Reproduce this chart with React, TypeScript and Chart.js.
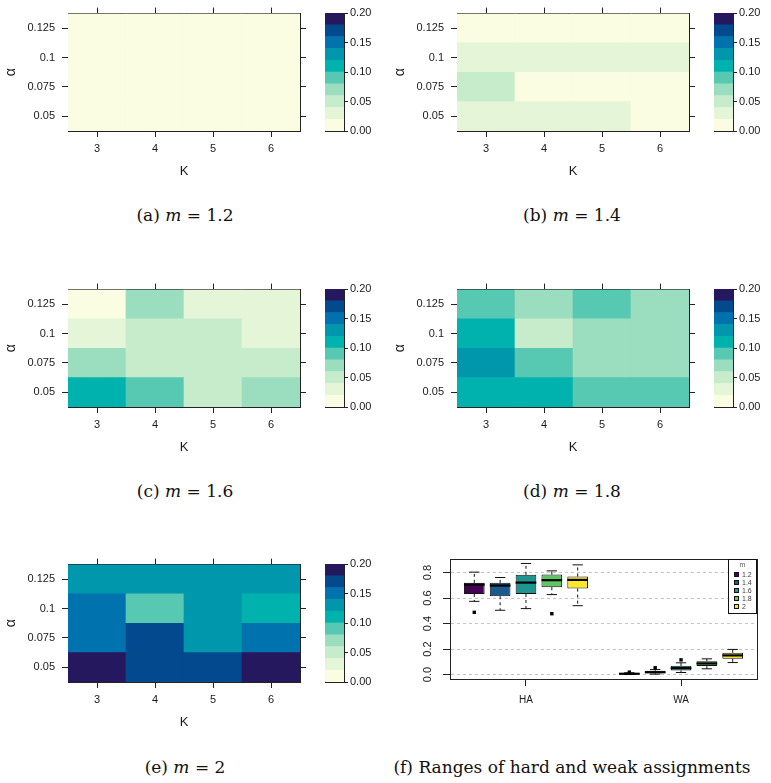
import React, { useEffect, useRef } from 'react';
import { Chart, registerables } from 'chart.js';

Chart.register(...registerables);

const SANS = "'Liberation Sans', Arial, Helvetica, sans-serif";
const SERIF = "'DejaVu Serif', serif";
const INK = '#222222';
const TEXT = '#1a1a1a';

// ---- heat maps: misclassification rate by alpha and K ----
const K_VALUES = ['3', '4', '5', '6'];
const ALPHAS = [0.05, 0.075, 0.1, 0.125];

// colour key: ten bands of width 0.02
const LEVEL_BREAKS = [0, 0.02, 0.04, 0.06, 0.08, 0.1, 0.12, 0.14, 0.16, 0.18, 0.2];
const LEVEL_COLORS = [
  '#FAFDE1', '#E4F5D8', '#C6ECCB', '#9ADDBF', '#57C8B1',
  '#00B2AD', '#0096AC', '#0072AD', '#024A8D', '#26185F',
];
const KEY_TICKS = [0, 0.05, 0.1, 0.15, 0.2];

// rows follow ALPHAS (0.05 first), columns follow K_VALUES
const RATES_M12 = [
  [0.008, 0.006, 0.005, 0.004],
  [0.007, 0.005, 0.004, 0.003],
  [0.006, 0.005, 0.004, 0.003],
  [0.005, 0.004, 0.003, 0.002],
];
const RATES_M14 = [
  [0.028, 0.024, 0.021, 0.016],
  [0.042, 0.018, 0.015, 0.012],
  [0.032, 0.027, 0.025, 0.022],
  [0.017, 0.014, 0.012, 0.010],
];
const RATES_M16 = [
  [0.108, 0.088, 0.050, 0.071],
  [0.068, 0.052, 0.047, 0.045],
  [0.035, 0.047, 0.043, 0.033],
  [0.018, 0.064, 0.031, 0.029],
];
const RATES_M18 = [
  [0.112, 0.104, 0.091, 0.085],
  [0.127, 0.089, 0.073, 0.067],
  [0.106, 0.054, 0.070, 0.066],
  [0.087, 0.072, 0.083, 0.069],
];
const RATES_M20 = [
  [0.187, 0.173, 0.168, 0.184],
  [0.152, 0.166, 0.131, 0.148],
  [0.146, 0.093, 0.128, 0.114],
  [0.134, 0.129, 0.127, 0.125],
];

// ---- box plots: hard (HA) and weak (WA) assignment rates ----
const M_LABELS = ['1.2', '1.4', '1.6', '1.8', '2'];
const BOX_COLORS = ['#440154', '#1B5A8D', '#1E968F', '#5DC863', '#FDE725'];
const GROUPS = ['HA', 'WA'];
const GROUP_CENTERS = [3, 9];
const Y_TICKS = [0, 0.2, 0.4, 0.6, 0.8];
const LEGEND_TITLE = 'm';

const HA_LOW = [0.574, 0.504, 0.517, 0.627, 0.540];
const HA_Q1 = [0.632, 0.614, 0.632, 0.685, 0.674];
const HA_MED = [0.705, 0.698, 0.721, 0.740, 0.742];
const HA_Q3 = [0.719, 0.719, 0.782, 0.784, 0.769];
const HA_HIGH = [0.803, 0.761, 0.871, 0.813, 0.860];
const HA_OUT = [[0.488], [], [], [0.477], []];

const WA_LOW = [0.0, 0.003, 0.016, 0.045, 0.094];
const WA_Q1 = [0.002, 0.011, 0.032, 0.066, 0.123];
const WA_MED = [0.006, 0.018, 0.050, 0.087, 0.150];
const WA_Q3 = [0.010, 0.029, 0.068, 0.105, 0.171];
const WA_HIGH = [0.014, 0.039, 0.092, 0.123, 0.197];
const WA_OUT = [[0.019], [0.053], [0.115], [], []];

const CAPTIONS = ['(a)', '(b)', '(c)', '(d)', '(e)', '(f)'];
const F_CAPTION = 'Ranges of hard and weak assignments';

// ---- helpers ----
const sizeTo = (px: number) => (scale: any) => {
  if (scale.isHorizontal()) scale.height = px;
  else scale.width = px;
};

const tickGrid = (tickLength: number) => ({
  display: true,
  drawOnChartArea: false,
  drawTicks: true,
  offset: false,
  tickLength,
  tickColor: INK,
  tickWidth: 1,
  color: INK,
  lineWidth: 1,
});
const noGrid = { display: false, drawOnChartArea: false, drawTicks: false, offset: false };
const frameBorder = { display: true, color: INK, width: 1 };
const hiddenTicks = { display: false };

const baseOptions = {
  responsive: false,
  animation: false,
  devicePixelRatio: 1,
  events: [],
  layout: { padding: 0 },
  plugins: { legend: { display: false }, tooltip: { enabled: false }, title: { display: false } },
};

function levelColor(v: number) {
  let i = 0;
  while (i < LEVEL_COLORS.length - 1 && v >= LEVEL_BREAKS[i + 1]) i++;
  return LEVEL_COLORS[i];
}

function heatmapConfig(rates: number[][]) {
  const half = (ALPHAS[1] - ALPHAS[0]) / 2;
  const yMin = ALPHAS[0] - half;
  const yMax = ALPHAS[ALPHAS.length - 1] + half;
  const alphaTicks = (s: any) => {
    s.ticks = ALPHAS.map((value) => ({ value }));
  };
  return {
    type: 'bar',
    data: {
      labels: K_VALUES,
      datasets: ALPHAS.map((a, r) => ({
        label: String(a),
        data: K_VALUES.map(() => [a - half, a + half]),
        backgroundColor: rates[r].map(levelColor),
        borderWidth: 0,
        grouped: false,
        barPercentage: 1,
        categoryPercentage: 1,
        xAxisID: 'x',
        yAxisID: 'y',
      })),
    },
    options: {
      ...baseOptions,
      scales: {
        x: {
          type: 'category', axis: 'x', position: 'bottom', offset: true,
          afterFit: sizeTo(51),
          grid: tickGrid(6), border: frameBorder,
          ticks: { font: { family: SANS, size: 11 }, color: TEXT, padding: 5, maxRotation: 0, autoSkip: false },
          title: { display: true, text: 'K', color: TEXT, font: { family: SANS, size: 13 }, padding: { top: 0, bottom: 3 } },
        },
        xt: {
          type: 'category', axis: 'x', position: 'top', offset: true,
          afterFit: sizeTo(13),
          grid: tickGrid(6), border: frameBorder, ticks: hiddenTicks,
        },
        y: {
          type: 'linear', axis: 'y', position: 'left', min: yMin, max: yMax, beginAtZero: false,
          afterBuildTicks: alphaTicks, afterFit: sizeTo(68),
          grid: tickGrid(6), border: frameBorder,
          ticks: { font: { family: SANS, size: 11 }, color: TEXT, padding: 7, callback: (v: number) => String(v) },
          title: { display: true, text: 'α', color: TEXT, font: { family: SANS, size: 14 }, padding: { top: 3, bottom: 0 } },
        },
        yr: {
          type: 'linear', axis: 'y', position: 'right', min: yMin, max: yMax, beginAtZero: false,
          afterBuildTicks: alphaTicks, afterFit: sizeTo(10),
          grid: tickGrid(6), border: frameBorder, ticks: hiddenTicks,
        },
      },
    },
  };
}

function colorKeyConfig() {
  const lo = LEVEL_BREAKS[0];
  const hi = LEVEL_BREAKS[LEVEL_BREAKS.length - 1];
  return {
    type: 'bar',
    data: {
      labels: [''],
      datasets: LEVEL_COLORS.map((c, i) => ({
        data: [[LEVEL_BREAKS[i], LEVEL_BREAKS[i + 1]]],
        backgroundColor: c,
        borderWidth: 0,
        grouped: false,
        barPercentage: 1,
        categoryPercentage: 1,
        xAxisID: 'x',
        yAxisID: 'y',
      })),
    },
    options: {
      ...baseOptions,
      scales: {
        x: {
          type: 'category', axis: 'x', position: 'bottom', offset: true,
          afterFit: sizeTo(19), grid: noGrid, border: frameBorder, ticks: hiddenTicks,
        },
        xt: {
          type: 'category', axis: 'x', position: 'top', offset: true,
          afterFit: sizeTo(13), grid: noGrid, border: frameBorder, ticks: hiddenTicks,
        },
        yl: {
          type: 'linear', axis: 'y', position: 'left', min: lo, max: hi, beginAtZero: false,
          afterFit: sizeTo(5), grid: noGrid, border: frameBorder, ticks: hiddenTicks,
        },
        y: {
          type: 'linear', axis: 'y', position: 'right', min: lo, max: hi, beginAtZero: false,
          afterBuildTicks: (s: any) => {
            s.ticks = KEY_TICKS.map((value) => ({ value }));
          },
          afterFit: sizeTo(36),
          grid: tickGrid(4), border: frameBorder,
          ticks: { font: { family: SANS, size: 11 }, color: TEXT, padding: 2, callback: (v: number) => v.toFixed(2) },
        },
      },
    },
  };
}

// legend drawn inside the top-right corner of the plot
const insetLegend = {
  id: 'insetLegend',
  afterDatasetsDraw(chart: any) {
    const items = chart.data.datasets.filter((d: any) => d.type === 'bar');
    const { ctx, chartArea } = chart;
    const w = 29;
    const h = 55;
    const x0 = Math.round(chartArea.right - w);
    const y0 = Math.round(chartArea.top);
    ctx.save();
    ctx.fillStyle = '#ffffff';
    ctx.fillRect(x0, y0, w, h);
    ctx.strokeStyle = '#111111';
    ctx.lineWidth = 1;
    ctx.strokeRect(x0 + 0.5, y0 + 0.5, w - 1, h - 1);
    ctx.font = `7px ${SANS}`;
    ctx.textBaseline = 'middle';
    ctx.textAlign = 'center';
    ctx.fillStyle = '#555555';
    ctx.fillText(LEGEND_TITLE, x0 + w / 2, y0 + 6);
    ctx.textAlign = 'left';
    items.forEach((d: any, i: number) => {
      const cy = Math.round(y0 + 16 + i * 8);
      ctx.fillStyle = d.backgroundColor;
      ctx.fillRect(x0 + 6, cy - 3, 5, 5);
      ctx.strokeStyle = '#111111';
      ctx.strokeRect(x0 + 6.5, cy - 2.5, 4, 4);
      ctx.fillStyle = '#444444';
      ctx.fillText(d.label, x0 + 14, cy);
    });
    ctx.restore();
  },
};

// y tick labels written along the axis (reading upwards), placed from the y scale's ticks
const uprightYLabels = {
  id: 'uprightYLabels',
  afterDraw(chart: any) {
    const s = chart.scales.y;
    const { ctx } = chart;
    ctx.save();
    ctx.font = `11px ${SANS}`;
    ctx.fillStyle = TEXT;
    ctx.textAlign = 'center';
    ctx.textBaseline = 'middle';
    const x = chart.chartArea.left - 22;
    s.ticks.forEach((t: any) => {
      const y = s.getPixelForValue(t.value);
      ctx.save();
      ctx.translate(x, y);
      ctx.rotate(-Math.PI / 2);
      ctx.fillText(Number(t.value).toFixed(1), 0, 0);
      ctx.restore();
    });
    ctx.restore();
  },
};

function boxplotConfig() {
  const stats = [
    { low: HA_LOW, q1: HA_Q1, med: HA_MED, q3: HA_Q3, high: HA_HIGH, out: HA_OUT },
    { low: WA_LOW, q1: WA_Q1, med: WA_MED, q3: WA_Q3, high: WA_HIGH, out: WA_OUT },
  ];
  const mid = (M_LABELS.length - 1) / 2;
  const pos = (g: number, j: number) => GROUP_CENTERS[g] + j - mid;
  const unitPx = (c: any) => {
    const s = c.chart.scales.x;
    return Math.abs(s.getPixelForValue(1) - s.getPixelForValue(0));
  };

  const whiskers: any[] = [];
  const caps: any[] = [];
  const medians: any[] = [];
  const outliers: any[] = [];
  stats.forEach((s, g) => {
    M_LABELS.forEach((_, j) => {
      const x = pos(g, j);
      whiskers.push({ x, y: s.q3[j] }, { x, y: s.high[j] }, { x, y: null });
      whiskers.push({ x, y: s.q1[j] }, { x, y: s.low[j] }, { x, y: null });
      caps.push({ x, y: s.low[j] }, { x, y: s.high[j] });
      medians.push({ x, y: s.med[j] });
      s.out[j].forEach((y) => outliers.push({ x, y }));
    });
  });

  const boxes = M_LABELS.map((m, j) => ({
    type: 'bar',
    label: m,
    data: stats.map((s, g) => ({ x: pos(g, j), y: [s.q1[j], s.q3[j]] })),
    backgroundColor: BOX_COLORS[j],
    borderColor: '#111111',
    borderWidth: 1,
    borderSkipped: false,
    grouped: false,
    barPercentage: 0.8,
    categoryPercentage: 1,
    order: 2,
  }));

  return {
    type: 'bar',
    data: {
      datasets: [
        ...boxes,
        {
          type: 'line', label: 'whiskers', data: whiskers, borderColor: '#111111', borderWidth: 1,
          borderDash: [3, 3], pointRadius: 0, fill: false, spanGaps: false, order: 3,
        },
        {
          type: 'scatter', label: 'caps', data: caps, pointStyle: 'line',
          pointRadius: (c: any) => unitPx(c) * 0.2, pointBorderColor: '#111111', pointBorderWidth: 1, order: 1,
        },
        {
          type: 'scatter', label: 'medians', data: medians, pointStyle: 'line',
          pointRadius: (c: any) => unitPx(c) * 0.4, pointBorderColor: '#000000', pointBorderWidth: 2.2, order: 0,
        },
        {
          type: 'scatter', label: 'outliers', data: outliers, pointStyle: 'rect',
          pointRadius: 2.4, pointBackgroundColor: '#000000', pointBorderWidth: 0, order: 0,
        },
      ],
    },
    options: {
      ...baseOptions,
      scales: {
        x: {
          type: 'linear', axis: 'x', position: 'bottom', min: 0.06, max: 11.94, offset: false,
          afterBuildTicks: (s: any) => {
            s.ticks = GROUP_CENTERS.map((value) => ({ value }));
          },
          afterFit: sizeTo(36),
          grid: tickGrid(7), border: frameBorder,
          ticks: { font: { family: SANS, size: 10 }, color: TEXT, padding: 8, maxRotation: 0, callback: (_v: number, i: number) => GROUPS[i] },
        },
        xt: {
          type: 'linear', axis: 'x', position: 'top', min: 0.06, max: 11.94, offset: false,
          afterFit: sizeTo(19), grid: noGrid, border: frameBorder, ticks: hiddenTicks,
        },
        y: {
          type: 'linear', axis: 'y', position: 'left', min: -0.035, max: 0.906, beginAtZero: false,
          afterBuildTicks: (s: any) => {
            s.ticks = Y_TICKS.map((value) => ({ value }));
          },
          afterFit: sizeTo(65),
          grid: {
            display: true, drawOnChartArea: true, drawTicks: true, tickLength: 7,
            color: '#c4c4c4', lineWidth: 1, tickColor: INK, tickWidth: 1, tickBorderDash: [],
          },
          border: { display: true, color: INK, width: 1, dash: [3, 3] },
          ticks: { display: false },
        },
        yr: {
          type: 'linear', axis: 'y', position: 'right', min: -0.035, max: 0.906, beginAtZero: false,
          afterFit: sizeTo(14), grid: noGrid, border: frameBorder, ticks: hiddenTicks,
        },
      },
    },
    plugins: [insetLegend, uprightYLabels],
  };
}

function ChartCanvas(props: { left: number; top: number; width: number; height: number; make: () => any }) {
  const { left, top, width, height, make } = props;
  const ref = useRef<HTMLCanvasElement>(null);
  useEffect(() => {
    const chart = new Chart(ref.current as HTMLCanvasElement, make());
    return () => chart.destroy();
  }, []);
  return (
    <canvas
      ref={ref}
      width={width}
      height={height}
      style={{ position: 'absolute', left, top, width, height }}
    />
  );
}

function Caption(props: { cx: number; cy: number; children: React.ReactNode }) {
  return (
    <div
      style={{
        position: 'absolute',
        left: props.cx - 190,
        top: props.cy - 11,
        width: 380,
        textAlign: 'center',
        fontFamily: SERIF,
        fontSize: 17,
        lineHeight: '22px',
        color: '#111',
        whiteSpace: 'nowrap',
      }}
    >
      {props.children}
    </div>
  );
}

const HEAT_PANELS = [
  { m: '1.2', rates: RATES_M12 },
  { m: '1.4', rates: RATES_M14 },
  { m: '1.6', rates: RATES_M16 },
  { m: '1.8', rates: RATES_M18 },
  { m: '2', rates: RATES_M20 },
];

const COL_X = [0, 389];
const ROW_Y = [0, 276, 551];
const COL_CENTER = [185, 572];
const ROW_CAPTION_Y = [215, 491, 767];

export default function App() {
  return (
    <div
      style={{
        position: 'absolute',
        left: 0,
        top: 0,
        width: 771,
        height: 783,
        background: '#ffffff',
        overflow: 'hidden',
      }}
    >
      {HEAT_PANELS.map((p, i) => {
        const col = i % 2;
        const row = Math.floor(i / 2);
        const ox = COL_X[col];
        const oy = ROW_Y[row];
        return (
          <React.Fragment key={p.m}>
            <ChartCanvas left={ox} top={oy} width={310} height={182} make={() => heatmapConfig(p.rates)} />
            <ChartCanvas left={ox + 320} top={oy} width={60} height={150} make={colorKeyConfig} />
            <Caption cx={COL_CENTER[col]} cy={ROW_CAPTION_Y[row]}>
              {CAPTIONS[i]} <i>m</i> = {p.m}
            </Caption>
          </React.Fragment>
        );
      })}
      <ChartCanvas left={385} top={540} width={386} height={175} make={boxplotConfig} />
      <Caption cx={COL_CENTER[1]} cy={ROW_CAPTION_Y[2]}>
        {CAPTIONS[5]} {F_CAPTION}
      </Caption>
    </div>
  );
}
